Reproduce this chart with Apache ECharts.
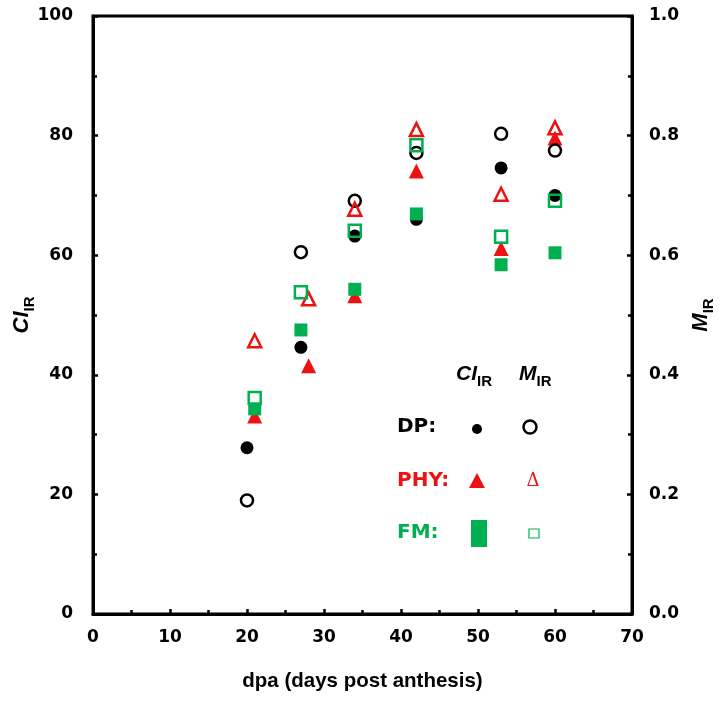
<!DOCTYPE html>
<html>
<head>
<meta charset="utf-8">
<script src="https://cdn.jsdelivr.net/npm/echarts@6/dist/echarts.min.js"></script>
<style>
html,body{margin:0;padding:0;background:#fff;}
#c{width:724px;height:705px;}
</style>
</head>
<body>
<div id="c"></div>
<script>
// x values (dpa)
var dpaDP = [20, 27, 34, 42, 53, 60];
var dpaPHY = [21, 28, 34, 42, 53, 60];
var dpaFM = [21, 27, 34, 42, 53, 60];
var dpaPHY_M = [21, 28, 34, 42, 53, 60];
// CI_IR values (left axis)
var ciDP = [27.8, 44.6, 63.2, 66.0, 74.6, 70.0];
var ciPHY = [33.1, 41.5, 53.2, 74.1, 61.1, 79.6];
var ciFM = [34.3, 47.5, 54.3, 66.9, 58.4, 60.4];
// M_IR values (right axis)
var mDP = [0.19, 0.605, 0.691, 0.771, 0.803, 0.775];
var mPHY = [0.457, 0.527, 0.677, 0.81, 0.702, 0.813];
var mFM = [0.361, 0.538, 0.641, 0.784, 0.631, 0.691];

var RED = '#EE1111';
var GREEN = '#00B050';
var FONT = '"Liberation Sans", Arial, sans-serif';
var WIDE = '"DejaVu Sans", "Liberation Sans", sans-serif';

function pairs(xs, ys) { return xs.map(function (x, i) { return [x, ys[i]]; }); }

var chart = echarts.init(document.getElementById('c'), null, { renderer: 'canvas' });

var axisCommon = {
  axisLine: { show: true, onZero: false, lineStyle: { color: '#000', width: 3 } },
  axisTick: { show: true, inside: true, length: 5, lineStyle: { color: '#000', width: 2.5 } },
  minorTick: { show: true, splitNumber: 2, length: 4, lineStyle: { color: '#000', width: 2.5 } },
  splitLine: { show: false },
  axisLabel: { color: '#000', fontFamily: WIDE, fontWeight: 'bold', fontSize: 17 }
};

function filled(name, data, symbol, color, yAxisIndex, size) {
  return {
    name: name, type: 'scatter', yAxisIndex: yAxisIndex, data: data,
    symbol: symbol, symbolSize: size,
    itemStyle: { color: color, opacity: 1 },
    emphasis: { disabled: true }, animation: false
  };
}
function open(name, data, symbol, color, size) {
  return {
    name: name, type: 'scatter', yAxisIndex: 1, data: data,
    symbol: symbol, symbolSize: size,
    itemStyle: { color: 'rgba(0,0,0,0)', borderColor: color, borderWidth: 2.5, opacity: 1 },
    emphasis: { disabled: true }, animation: false
  };
}

var titleRich = {
  i: { fontFamily: FONT, fontWeight: 'bold', fontStyle: 'italic', fontSize: 22, color: '#000', verticalAlign: 'bottom' },
  s: { fontFamily: FONT, fontWeight: 'bold', fontSize: 15, color: '#000', verticalAlign: 'bottom', padding: [0, 0, -4, 0] }
};
var legRich = {
  i: { fontFamily: FONT, fontWeight: 'bold', fontStyle: 'italic', fontSize: 21, fill: '#000', verticalAlign: 'bottom' },
  s: { fontFamily: FONT, fontWeight: 'bold', fontSize: 15, fill: '#000', verticalAlign: 'bottom', padding: [0, 0, -4, 0] }
};

var option = {
  backgroundColor: '#fff',
  animation: false,
  grid: { left: 93, right: 92, top: 16, bottom: 91, containLabel: false, outerBoundsMode: 'none', show: true, borderColor: '#000', borderWidth: 3, backgroundColor: 'transparent' },
  xAxis: Object.assign({}, axisCommon, {
    type: 'value', min: 0, max: 70, interval: 10,
    axisLabel: Object.assign({}, axisCommon.axisLabel, { margin: 15 }),
    name: 'dpa (days post anthesis)', nameLocation: 'middle', nameGap: 57,
    nameTextStyle: { color: '#000', fontFamily: FONT, fontWeight: 'bold', fontSize: 20.5 }
  }),
  yAxis: [
    Object.assign({}, axisCommon, {
      type: 'value', min: 0, max: 100, interval: 20, position: 'left',
      axisLabel: Object.assign({}, axisCommon.axisLabel, { margin: 20 }),
      name: '{i|CI}{s|IR}', nameLocation: 'middle', nameGap: 60, nameRotate: 90, nameMoveOverlap: false,
      nameTextStyle: { rich: titleRich }
    }),
    Object.assign({}, axisCommon, {
      type: 'value', min: 0, max: 1, interval: 0.2, position: 'right',
      axisLabel: Object.assign({}, axisCommon.axisLabel, { margin: 17, formatter: function (v) { return v.toFixed(1); } }),
      name: '{i|M}{s|IR}', nameLocation: 'middle', nameGap: 58, nameRotate: 90, nameMoveOverlap: false,
      nameTextStyle: { rich: titleRich }
    })
  ],
  series: [
    filled('DP CI', pairs(dpaDP, ciDP), 'circle', '#000', 0, 13),
    filled('PHY CI', pairs(dpaPHY, ciPHY), 'triangle', RED, 0, 15),
    filled('FM CI', pairs(dpaFM, ciFM), 'rect', GREEN, 0, 13),
    open('DP M', pairs(dpaDP, mDP), 'circle', '#000', 12),
    open('PHY M', pairs(dpaPHY_M, mPHY), 'triangle', RED, 13),
    open('FM M', pairs(dpaFM, mFM), 'rect', GREEN, 12)
  ],
  graphic: [
    { type: 'text', left: 456, top: 364, style: { text: '{i|CI}{s|IR}', rich: legRich } },
    { type: 'text', left: 519, top: 364, style: { text: '{i|M}{s|IR}', rich: legRich } },
    { type: 'text', x: 397, y: 427, style: { text: 'DP:', fontFamily: WIDE, fontWeight: 'bold', fontSize: 20, fill: '#000', verticalAlign: 'middle' } },
    { type: 'text', x: 397, y: 481, style: { text: 'PHY:', fontFamily: WIDE, fontWeight: 'bold', fontSize: 20, fill: RED, verticalAlign: 'middle' } },
    { type: 'text', x: 397, y: 533, style: { text: 'FM:', fontFamily: WIDE, fontWeight: 'bold', fontSize: 20, fill: GREEN, verticalAlign: 'middle' } },
    { type: 'circle', shape: { cx: 477, cy: 429, r: 5 }, style: { fill: '#000' } },
    { type: 'circle', shape: { cx: 530, cy: 427, r: 6.5 }, style: { fill: 'none', stroke: '#000', lineWidth: 2.5 } },
    { type: 'polygon', shape: { points: [[477, 473], [485, 488], [469, 488]] }, style: { fill: RED } },
    { type: 'text', x: 533, y: 481, style: { text: 'Δ', fontFamily: '"DejaVu Serif", serif', fontSize: 18, fill: RED, align: 'center', verticalAlign: 'middle' } },
    { type: 'rect', shape: { x: 471, y: 520, width: 16, height: 27 }, style: { fill: GREEN } },
    { type: 'rect', shape: { x: 529, y: 529, width: 10, height: 9 }, style: { fill: 'none', stroke: GREEN, lineWidth: 1.2 } }
  ]
};
chart.setOption(option);
</script>
</body>
</html>
